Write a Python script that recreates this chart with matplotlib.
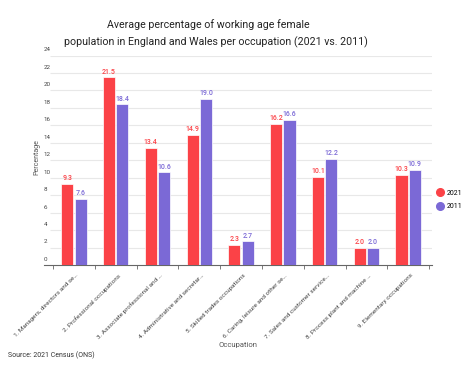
import numpy as np
import matplotlib
matplotlib.use("Agg")
import matplotlib.pyplot as plt
from matplotlib.lines import Line2D

plt.rcParams['font.family'] = ['Roboto', 'DejaVu Sans']

occupations = [
    "1. Managers, directors and se\u2026",
    "2. Professional occupations",
    "3. Associate professional and \u2026",
    "4. Administrative and secretar\u2026",
    "5. Skilled trades occupations",
    "6. Caring, leisure and other se\u2026",
    "7. Sales and customer service\u2026",
    "8. Process plant and machine \u2026",
    "9. Elementary occupations",
]
pct_2021 = [9.3, 21.5, 13.4, 14.9, 2.3, 16.2, 10.1, 2.0, 10.3]
pct_2011 = [7.6, 18.4, 10.6, 19.0, 2.7, 16.6, 12.2, 2.0, 10.9]
yticks = list(range(0, 25, 2))

red = '#fb4247'
purple = '#7b69d6'

fig = plt.figure(figsize=(4.72, 3.67), dpi=100)
ax = fig.add_axes([44/472, 1-265/367, (432-44)/472, (265-55.5)/367])

x = np.arange(len(occupations))
w = 0.29
off = 0.16
b1 = ax.bar(x - off, pct_2021, w, color=red, edgecolor='white', linewidth=0.5, zorder=3)
b2 = ax.bar(x + off, pct_2011, w, color=purple, edgecolor='white', linewidth=0.5, zorder=3)

for bars, vals, c in [(b1, pct_2021, red), (b2, pct_2011, purple)]:
    for r, v in zip(bars, vals):
        ax.text(r.get_x() + r.get_width()/2, v + 0.2, f"{v:.1f}", ha='center', va='bottom',
                fontsize=5, color=c, fontweight='medium')

ax.set_xlim(-0.716, 8.57)
ax.set_ylim(0, 24)

# gridlines and y labels sitting above them
ax.set_yticks([])
ax.hlines(yticks[1:], -0.57, 8.57, color='#e8e8e8', linewidth=0.8, zorder=0)
for t in yticks:
    ax.text(-0.716, t + 0.35, str(t), fontsize=4.5, color='#444444', ha='left', va='bottom')

ax.set_xticks(np.arange(-0.5, 9.0, 1.0))
ax.set_xticklabels([])
ax.tick_params(axis='x', length=3, color='#666666', width=0.6)
for i, name in enumerate(occupations):
    ax.text(i + 0.05, -0.9, name, rotation=45, ha='right', va='top', fontsize=4.6,
            color='#444444', rotation_mode='anchor')

for s in ['top', 'right', 'left']:
    ax.spines[s].set_visible(False)
ax.spines['bottom'].set_color('#666666')
ax.spines['bottom'].set_linewidth(0.8)

fig.text(37/472, 1-157/367, 'Percentage', fontsize=5, color='#555555', rotation=90,
         ha='center', va='center')
fig.text(238/472, 1-345/367, 'Occupation', fontsize=5.5, color='#555555', ha='center', va='center')

fig.text(208/472, 1-25/367, 'Average percentage of working age female', fontsize=7.7,
         ha='center', va='center', color='#222222')
fig.text(215.5/472, 1-42/367, 'population in England and Wales per occupation (2021 vs. 2011)',
         fontsize=7.7, ha='center', va='center', color='#222222')
fig.text(8/472, 1-355/367, 'Source: 2021 Census (ONS)', fontsize=5, color='#333333', va='center')

handles = [Line2D([], [], marker='o', ls='', markersize=5.5, color=red),
           Line2D([], [], marker='o', ls='', markersize=5.5, color=purple)]
ax.legend(handles, ['2021', '2011'], loc='center left', bbox_to_anchor=(0.995, 0.31),
          frameon=False, fontsize=5, handletextpad=0.3, labelspacing=0.9, handlelength=1.2)

fig.savefig('out.png', dpi=100)
